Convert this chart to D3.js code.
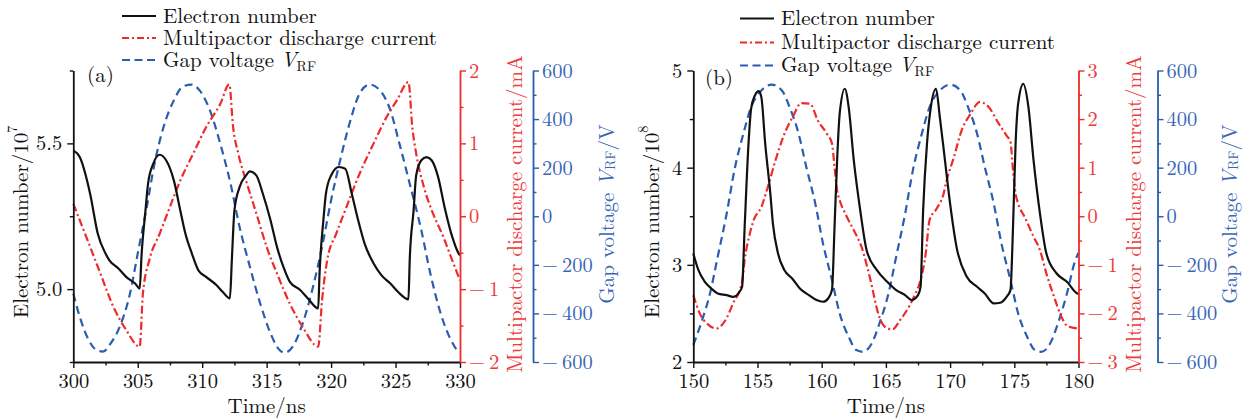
<!DOCTYPE html>
<html><head><meta charset="utf-8">
<script src="https://cdn.jsdelivr.net/npm/d3@7"></script>
<style>
body{margin:0;background:#fff}
</style>
</head><body>
<svg id="chart" width="1248" height="419"></svg>
<script>
// ---------------- DATA ----------------
// Panel (a): time (ns) vs values
const electronA = [[300,5.476],[300.5,5.453],[301.3,5.328],[301.9,5.19],[302.5,5.122],[302.8,5.099],[303.5,5.071],[304.1,5.042],[304.8,5.019],[305.15,5.002],[305.3,5.12],[305.6,5.27],[305.8,5.362],[306.2,5.43],[306.7,5.461],[307.2,5.442],[307.8,5.373],[308.3,5.27],[308.7,5.19],[309.2,5.122],[309.7,5.065],[310.3,5.042],[311.1,5.014],[311.6,4.99],[312.15,4.968],[312.3,5.1],[312.5,5.27],[312.9,5.35],[313.4,5.39],[313.7,5.404],[314.2,5.39],[314.7,5.328],[315.3,5.236],[315.8,5.145],[316.3,5.076],[316.8,5.025],[317.6,4.997],[318.2,4.968],[319.0,4.934],[319.1,5.05],[319.4,5.236],[319.6,5.328],[320.0,5.39],[320.6,5.419],[321.1,5.413],[321.6,5.328],[322.1,5.236],[322.6,5.156],[323.3,5.088],[323.9,5.048],[324.6,5.019],[325.2,4.99],[326.0,4.965],[326.1,5.1],[326.4,5.27],[326.6,5.39],[327.0,5.442],[327.4,5.453],[327.8,5.442],[328.3,5.385],[328.8,5.282],[329.4,5.179],[329.9,5.122],[330,5.116]];
const currentA = [[300,0.17],[301,-0.28],[302.1,-0.785],[303.1,-1.24],[304.1,-1.56],[305.15,-1.79],[305.4,-1.06],[305.9,-0.6],[306.7,-0.24],[307.5,0.13],[308.3,0.49],[309.3,0.86],[310.3,1.22],[311.4,1.54],[312.1,1.81],[312.4,1.22],[312.8,0.86],[313.4,0.49],[314.2,0.04],[315.0,-0.42],[315.8,-0.785],[316.8,-1.2],[317.8,-1.52],[319.0,-1.79],[319.3,-1.15],[319.7,-0.6],[320.4,-0.24],[321.2,0.13],[322.2,0.58],[323.3,1.0],[324.3,1.36],[325.1,1.59],[326.0,1.84],[326.3,1.22],[326.6,0.86],[327.2,0.4],[327.9,0.04],[328.7,-0.28],[329.3,-0.56],[330,-0.88]];
const voltageA = [[300,-318],[300.5,-414],[301.2,-510],[301.8,-551],[302.3,-557],[302.9,-523],[303.6,-455],[304.4,-318],[305.0,-153],[305.7,38],[306.3,216],[307.0,367],[307.8,477],[308.5,534],[309.2,542],[309.8,518],[310.6,436],[311.4,299],[312.2,134],[312.9,-44],[313.7,-208],[314.5,-359],[315.3,-482],[316.0,-551],[316.4,-562],[317.1,-530],[317.8,-441],[318.6,-290],[319.4,-99],[320.0,66],[320.7,230],[321.5,395],[322.2,504],[323.0,542],[323.8,518],[324.6,436],[325.3,299],[326.1,134],[327.0,-58],[327.7,-236],[328.5,-400],[329.3,-510],[329.9,-557],[330,-560]];

// Panel (b)
const electronB = [[150,3.116],[150.4,2.945],[150.9,2.825],[151.4,2.757],[151.9,2.705],[152.6,2.688],[153.1,2.671],[153.6,2.723],[153.8,2.774],[154.0,3.39],[154.3,4.247],[154.5,4.606],[154.8,4.743],[155.1,4.788],[155.3,4.726],[155.6,4.247],[156.0,3.733],[156.2,3.425],[156.6,3.116],[157.1,2.945],[157.7,2.86],[158.3,2.757],[159.0,2.688],[159.6,2.637],[160.1,2.62],[160.5,2.654],[160.8,2.74],[161.0,3.39],[161.2,4.075],[161.4,4.555],[161.8,4.812],[162.1,4.623],[162.5,4.075],[163.0,3.562],[163.5,3.15],[164.3,2.945],[165.1,2.825],[165.8,2.74],[166.5,2.688],[167.0,2.637],[167.5,2.688],[167.7,2.774],[167.9,3.562],[168.2,4.247],[168.5,4.623],[168.9,4.812],[169.2,4.521],[169.6,4.075],[170.0,3.63],[170.5,3.185],[171.3,2.877],[172.1,2.774],[172.7,2.705],[173.4,2.603],[173.9,2.61],[174.4,2.671],[174.7,2.74],[174.9,3.39],[175.1,4.247],[175.3,4.658],[175.7,4.863],[176.1,4.623],[176.5,4.075],[177.0,3.527],[177.5,3.116],[178.3,2.911],[179.1,2.825],[179.9,2.705],[180,2.7]];
const currentB = [[150,-1.623],[150.5,-2.0],[151.2,-2.24],[151.8,-2.31],[152.5,-2.14],[153.1,-1.795],[153.8,-1.35],[154.0,-0.9],[154.4,-0.36],[154.7,-0.08],[155.3,0.19],[155.8,0.6],[156.4,1.15],[157.0,1.63],[157.8,2.075],[158.4,2.33],[159.1,2.315],[159.7,1.97],[160.4,1.7],[160.8,1.5],[161.0,1.01],[161.2,0.53],[161.4,0.33],[161.9,0.02],[162.5,-0.29],[163.1,-0.63],[163.8,-1.315],[164.4,-2.0],[164.9,-2.27],[165.5,-2.33],[166.1,-2.14],[166.8,-1.86],[167.3,-1.59],[167.7,-1.315],[168.1,-0.77],[168.4,-0.08],[168.96,0.16],[169.5,0.47],[169.7,0.705],[170.3,1.22],[170.9,1.77],[171.6,2.11],[172.3,2.35],[173.0,2.25],[173.8,1.9],[174.4,1.66],[174.7,1.53],[174.9,0.945],[175.1,0.465],[175.3,0.26],[175.8,-0.01],[176.5,-0.42],[177.0,-0.70],[177.5,-1.18],[178.1,-1.66],[178.6,-2.03],[179.2,-2.27],[180,-2.31]];
const voltageB = [[150,-530],[150.6,-441],[151.3,-318],[151.9,-167],[152.6,11],[153.2,189],[153.9,340],[154.5,449],[155.3,518],[156.1,542],[156.9,518],[157.5,449],[158.2,340],[158.8,203],[159.5,52],[160.1,-112],[160.8,-263],[161.4,-400],[162.1,-496],[162.7,-551],[163.2,-558],[163.9,-523],[164.5,-441],[165.2,-318],[165.8,-167],[166.5,11],[167.1,189],[167.8,340],[168.4,449],[169.2,518],[170.0,542],[170.8,518],[171.4,449],[172.1,340],[172.7,203],[173.4,52],[174.0,-112],[174.7,-263],[175.3,-400],[176.0,-496],[176.6,-551],[177.1,-558],[177.8,-523],[178.4,-441],[179.1,-318],[179.7,-190],[180,-150]];

// Ticks
const timeTicksA = [300,305,310,315,320,325,330];
const timeMinorA = [302.5,307.5,312.5,317.5,322.5,327.5];
const timeTicksB = [150,155,160,165,170,175,180];
const timeMinorB = [152.5,157.5,162.5,167.5,172.5,177.5];
const electronTicksA = [5.0,5.5];
const electronMinorA = [4.75,5.25,5.75];
const electronTicksB = [2,3,4,5];
const electronMinorB = [2.5,3.5,4.5];
const currentTicksA = [-2,-1,0,1,2];
const currentMinorA = [-1.5,-0.5,0.5,1.5];
const currentTicksB = [-3,-2,-1,0,1,2,3];
const currentMinorB = [-2.5,-1.5,-0.5,0.5,1.5,2.5];
const voltageTicks = [-600,-400,-200,0,200,400,600];
const voltageMinor = [-500,-300,-100,100,300,500];

const legendLabels = ["Electron number","Multipactor discharge current","Gap voltage"];

// ---------------- STYLE / LAYOUT ----------------
const RED = "#ee2a2a", BLUE = "#2a5caf", BLACK = "#111";
const RED_TXT = "#ec3b3b", BLUE_TXT = "#3a66b6";
const FONT = "'Latin Modern Roman','CMU Serif','Liberation Serif',serif";
const FS = 21, TFS = 20.5;
const plotTop = 70.5, plotBottom = 362;

const panels = [
  {x0:73.3, x1:460, blueX:533, xDom:[300,330], xT:timeTicksA, xM:timeMinorA,
   eDom:[4.75,5.75], eT:electronTicksA, eM:electronMinorA, eFmt:d3.format(".1f"), exp:"7",
   iDom:[-2,2], iT:currentTicksA, iM:currentMinorA,
   E:electronA, I:currentA, V:voltageA, tag:"(a)", tagX:87, tagY:82,
   lgX:122, lgY:[16,38,60], eTitleX:19, eTitleY:222, redTitleX:513, blueTitleX:605},
  {x0:693.3, x1:1078.5, blueX:1157.5, xDom:[150,180], xT:timeTicksB, xM:timeMinorB,
   eDom:[2,5], eT:electronTicksB, eM:electronMinorB, eFmt:d3.format("d"), exp:"8",
   iDom:[-3,3], iT:currentTicksB, iM:currentMinorB,
   E:electronB, I:currentB, V:voltageB, tag:"(b)", tagX:705, tagY:85,
   lgX:740, lgY:[18.5,42.5,65.5], eTitleX:650, eTitleY:222, redTitleX:1132, blueTitleX:1228}
];

const minusFmt = v => v < 0 ? "\u2212\u2009" + Math.abs(v) : String(v);

const svg = d3.select("#chart");

function styleAxis(g, color, minor){
  g.attr("font-family", null).attr("font-size", null);
  g.selectAll("path.domain").attr("stroke", color).attr("stroke-width", 1.8);
  g.selectAll(".tick line").attr("stroke", color).attr("stroke-width", 1.4);
  g.selectAll(".tick text").attr("fill", color).style("font-size", TFS + "px")
    .style("font-family", FONT);
  if (minor) g.select("path.domain").remove();
}

function txt(sel){ return sel.append("text").style("font-family", FONT).style("font-size", FS + "px"); }

panels.forEach(p => {
  const x = d3.scaleLinear().domain(p.xDom).range([p.x0, p.x1]);
  const yE = d3.scaleLinear().domain(p.eDom).range([plotBottom, plotTop]);
  const yI = d3.scaleLinear().domain(p.iDom).range([plotBottom, plotTop]);
  const yV = d3.scaleLinear().domain([-600,600]).range([plotBottom, plotTop]);

  // lines
  const lineOf = ys => d3.line().curve(d3.curveMonotoneX).x(d => x(d[0])).y(d => ys(d[1]));
  svg.append("path").datum(p.V).attr("d", lineOf(yV)).attr("fill","none")
    .attr("stroke", BLUE).attr("stroke-width", 2.2).attr("stroke-dasharray","8,5");
  svg.append("path").datum(p.I).attr("d", lineOf(yI)).attr("fill","none")
    .attr("stroke", RED).attr("stroke-width", 2.2).attr("stroke-dasharray","8,3,2,3");
  svg.append("path").datum(p.E).attr("d", lineOf(yE)).attr("fill","none")
    .attr("stroke", BLACK).attr("stroke-width", 2.2).attr("stroke-linejoin","round");

  // x axis
  const gx = svg.append("g").attr("transform",`translate(0,${plotBottom})`)
    .call(d3.axisBottom(x).tickValues(p.xT).tickSizeInner(6).tickSizeOuter(0).tickPadding(5).tickFormat(d3.format("d")));
  styleAxis(gx, BLACK);
  const gxm = svg.append("g").attr("transform",`translate(0,${plotBottom})`)
    .call(d3.axisBottom(x).tickValues(p.xM).tickSize(3.5).tickFormat(""));
  styleAxis(gxm, BLACK, true);

  // left axis
  const gl = svg.append("g").attr("transform",`translate(${p.x0},0)`)
    .call(d3.axisLeft(yE).tickValues(p.eT).tickSizeInner(6).tickSizeOuter(0).tickPadding(5).tickFormat(p.eFmt));
  styleAxis(gl, BLACK);
  const glm = svg.append("g").attr("transform",`translate(${p.x0},0)`)
    .call(d3.axisLeft(yE).tickValues(p.eM).tickSize(3.5).tickFormat(""));
  styleAxis(glm, BLACK, true);

  // red axis
  const gr = svg.append("g").attr("transform",`translate(${p.x1},0)`)
    .call(d3.axisRight(yI).tickValues(p.iT).tickSizeInner(6).tickSizeOuter(0).tickPadding(3).tickFormat(minusFmt));
  styleAxis(gr, RED);
  gr.selectAll(".tick text").attr("fill", RED_TXT);
  const grm = svg.append("g").attr("transform",`translate(${p.x1},0)`)
    .call(d3.axisRight(yI).tickValues(p.iM).tickSize(3.5).tickFormat(""));
  styleAxis(grm, RED, true);

  // blue axis
  const gb = svg.append("g").attr("transform",`translate(${p.blueX},0)`)
    .call(d3.axisRight(yV).tickValues(voltageTicks).tickSizeInner(6).tickSizeOuter(0).tickPadding(3).tickFormat(minusFmt));
  styleAxis(gb, BLUE);
  gb.selectAll(".tick text").attr("fill", BLUE_TXT);
  const gbm = svg.append("g").attr("transform",`translate(${p.blueX},0)`)
    .call(d3.axisRight(yV).tickValues(voltageMinor).tickSize(3.5).tickFormat(""));
  styleAxis(gbm, BLUE, true);

  // panel tag
  txt(svg).attr("x", p.tagX).attr("y", p.tagY).attr("fill", BLACK).text(p.tag);

  // x title
  txt(svg).attr("x", (p.x0+p.x1)/2).attr("y", 413).attr("text-anchor","middle")
    .attr("fill", BLACK).text("Time/ns");

  // left title
  const tl = txt(svg).attr("transform",`translate(${p.eTitleX},${p.eTitleY}) rotate(-90)`)
    .attr("text-anchor","middle").attr("dominant-baseline","central").attr("fill", BLACK);
  tl.append("tspan").text("Electron number/10");
  tl.append("tspan").style("font-size", "14px").attr("dy", -8).text(p.exp);

  // red title
  txt(svg).attr("transform",`translate(${p.redTitleX},214) rotate(-90)`)
    .attr("text-anchor","middle").attr("dominant-baseline","central").attr("fill", RED_TXT)
    .text("Multipactor discharge current/mA");

  // blue title
  const tb = txt(svg).attr("transform",`translate(${p.blueTitleX},214) rotate(-90)`)
    .attr("text-anchor","middle").attr("dominant-baseline","central").attr("fill", BLUE_TXT);
  tb.append("tspan").text("Gap voltage ");
  tb.append("tspan").style("font-style","italic").text("V");
  tb.append("tspan").style("font-size", "14px").attr("dy", 4).text("RF");
  tb.append("tspan").attr("dy", -4).text("/V");

  // legend
  const lg = svg.append("g");
  const styles = [
    {c:BLACK, d:null},
    {c:RED, d:"7,3,2,3"},
    {c:BLUE, d:"8,4.5"}
  ];
  legendLabels.forEach((lab, i) => {
    const yy = p.lgY[i];
    lg.append("line").attr("x1", p.lgX).attr("x2", p.lgX+34).attr("y1", yy).attr("y2", yy)
      .attr("stroke", styles[i].c).attr("stroke-width", 2.2)
      .attr("stroke-dasharray", styles[i].d);
    const t = txt(lg).attr("x", p.lgX+41).attr("y", yy+6.5).attr("fill", BLACK);
    t.append("tspan").text(lab);
    if (i === 2) {
      t.append("tspan").text(" ");
      t.append("tspan").style("font-style","italic").text("V");
      t.append("tspan").style("font-size", "14px").attr("dy", 4).text("RF");
    }
  });
});
</script>
</body></html>
